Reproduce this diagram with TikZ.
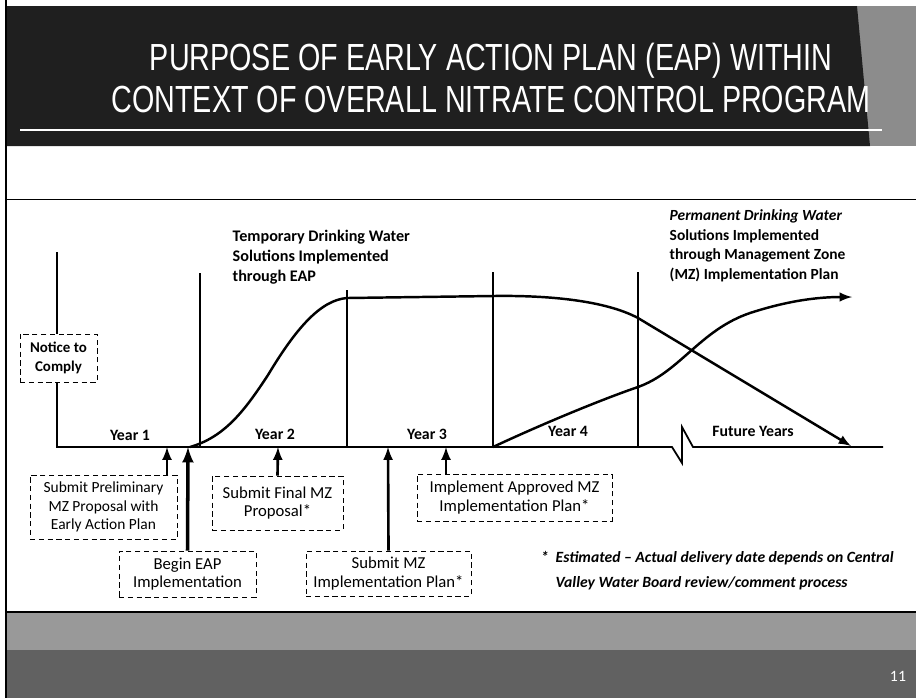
\documentclass[tikz,border=0pt]{standalone}
\usepackage{fontspec}
\setmainfont{Carlito}
\newfontfamily\titlefont[FakeStretch=0.76]{Liberation Sans}
\usetikzlibrary{arrows,positioning}

\begin{document}
\begin{tikzpicture}[x=0.02cm,y=-0.02cm,thick,font=\fontsize{9.5}{10.6}\selectfont]
    \tikzstyle{box}=[draw,densely dashed,thin,fill=white,align=center,inner sep=1pt]
    \tikzstyle{yr}=[font=\fontsize{9}{10}\selectfont\bfseries]
    \tikzstyle{head}=[white,anchor=base,font=\titlefont\fontsize{21.5}{24}\selectfont]
    \tikzstyle{up}=[-latex,line width=1.5pt]
    \tikzstyle{divider}=[line width=0.6pt]
    \tikzstyle{curve}=[-latex,line width=1.4pt]
    \tikzstyle{txt}=[anchor=west,align=left,inner sep=0pt]

    \useasboundingbox (0,0) rectangle (916,698);

    % title band
    \fill[black!45] (6,6) rectangle (916,146);
    \fill[black!88] (6,6) -- (857,6) -- (870,146) -- (6,146) -- cycle;
    \draw[white,line width=0.8pt] (20,130) -- (882,130);
    \node[head] (title1) at (491,70) {PURPOSE OF EARLY ACTION PLAN (EAP) WITHIN};
    \node[head] (title2) at (491,112) {CONTEXT OF OVERALL NITRATE CONTROL PROGRAM};

    % footer band
    \fill[black!40] (6,612) rectangle (916,650);
    \fill[black!62] (6,650) rectangle (916,698);
    \draw[line width=0.8pt] (6,612) -- (916,612);
    \node[white,font=\fontsize{9}{10}\selectfont] (page) at (898,676) {11};

    \draw[line width=1.5pt] (6,0) -- (6,698);
    \draw[thin] (6,199) -- (916,199);

    % time axis
    \coordinate (top) at (57,252);
    \coordinate (orig) at (57,447);
    \coordinate (end) at (883,447);
    \draw[line width=1pt] (top) -- (orig) -- (672,447) -- (682,463) -- (682,427)
        -- (693,447) -- (end);

    % year dividers
    \draw[divider] (200,273) -- (200,447);
    \draw[divider] (347,290) -- (347,447);
    \draw[divider] (493,272) -- (493,447);
    \draw[divider] (638,272) -- (638,447);

    \node[yr] (y1) at (130,435) {Year 1};
    \node[yr] (y2) at (275,434) {Year 2};
    \node[yr] (y3) at (427,434) {Year 3};
    \node[yr] (y4) at (568,431) {Year 4};
    \node[yr] (fy) at (753,431) {Future Years};

    % temporary solutions (EAP)
    \coordinate (t0) at (190,447);
    \coordinate (t1) at (347,298);
    \coordinate (t2) at (493,296);
    \coordinate (t3) at (638,318);
    \coordinate (t4) at (851,446);
    \draw[curve] (t0) .. controls (225,437) and (245,410) .. (268,375)
        .. controls (295,330) and (320,300) .. (t1) -- (t2)
        .. controls (560,295) and (610,303) .. (t3) -- (t4);

    % permanent solutions (MZ)
    \coordinate (p0) at (493,447);
    \coordinate (p1) at (638,387);
    \coordinate (p2) at (750,313);
    \coordinate (p3) at (852,297);
    \draw[curve] (p0) .. controls (540,425) and (600,400) .. (p1)
        .. controls (680,372) and (700,330) .. (p2)
        .. controls (790,300) and (820,297) .. (p3);

    \node[txt,font=\fontsize{9.2}{11.4}\selectfont\bfseries]
        (temp) at (232,257) {Temporary Drinking Water\\Solutions Implemented\\through EAP};
    \node[txt,font=\fontsize{8.8}{11.1}\selectfont\bfseries]
        (perm) at (669,246) {\textit{Permanent Drinking Water}\\Solutions Implemented\\through Management Zone\\(MZ) Implementation Plan};

    % milestones
    \node[box,font=\fontsize{8.5}{10.8}\selectfont\bfseries,minimum width=1.54cm,minimum height=0.96cm]
        (ntc) at (58.5,358) {Notice to\\Comply};
    \node[box,font=\fontsize{8.8}{10.6}\selectfont,minimum width=2.94cm,minimum height=1.28cm]
        (pre) at (103.5,507) {Submit Preliminary\\MZ Proposal with\\Early Action Plan};
    \node[box,minimum width=2.74cm,minimum height=0.92cm] (beg) at (187.5,574)
        {Begin EAP\\Implementation};
    \node[box,minimum width=2.62cm,minimum height=1.08cm] (fin) at (277.5,503)
        {Submit Final MZ\\Proposal*};
    \node[box,minimum width=3.3cm,minimum height=0.9cm] (smz) at (388.5,573.5)
        {Submit MZ\\Implementation Plan*};
    \node[box,minimum width=3.9cm,minimum height=0.94cm] (imp) at (514.5,497.5)
        {Implement Approved MZ\\Implementation Plan*};

    \coordinate (m1) at (167,447);
    \coordinate (m2) at (188,447);
    \coordinate (m3) at (278,447);
    \coordinate (m4) at (388,447);
    \coordinate (m5) at (446,447);
    \draw[up] (pre.north -| m1) -- (m1);
    \draw[up,line width=2pt] (beg.north) -- (m2);
    \draw[up] (fin.north) -- (m3);
    \draw[up] (smz.north) -- (m4);
    \draw[up] (imp.north -| m5) -- (m5);

    \node[txt,font=\fontsize{8.9}{14}\selectfont\bfseries\itshape]
        (note) at (555,570.5) {\llap{*\ \ }Estimated -- Actual delivery date depends on Central\\Valley Water Board review/comment process};
\end{tikzpicture}
\end{document}
